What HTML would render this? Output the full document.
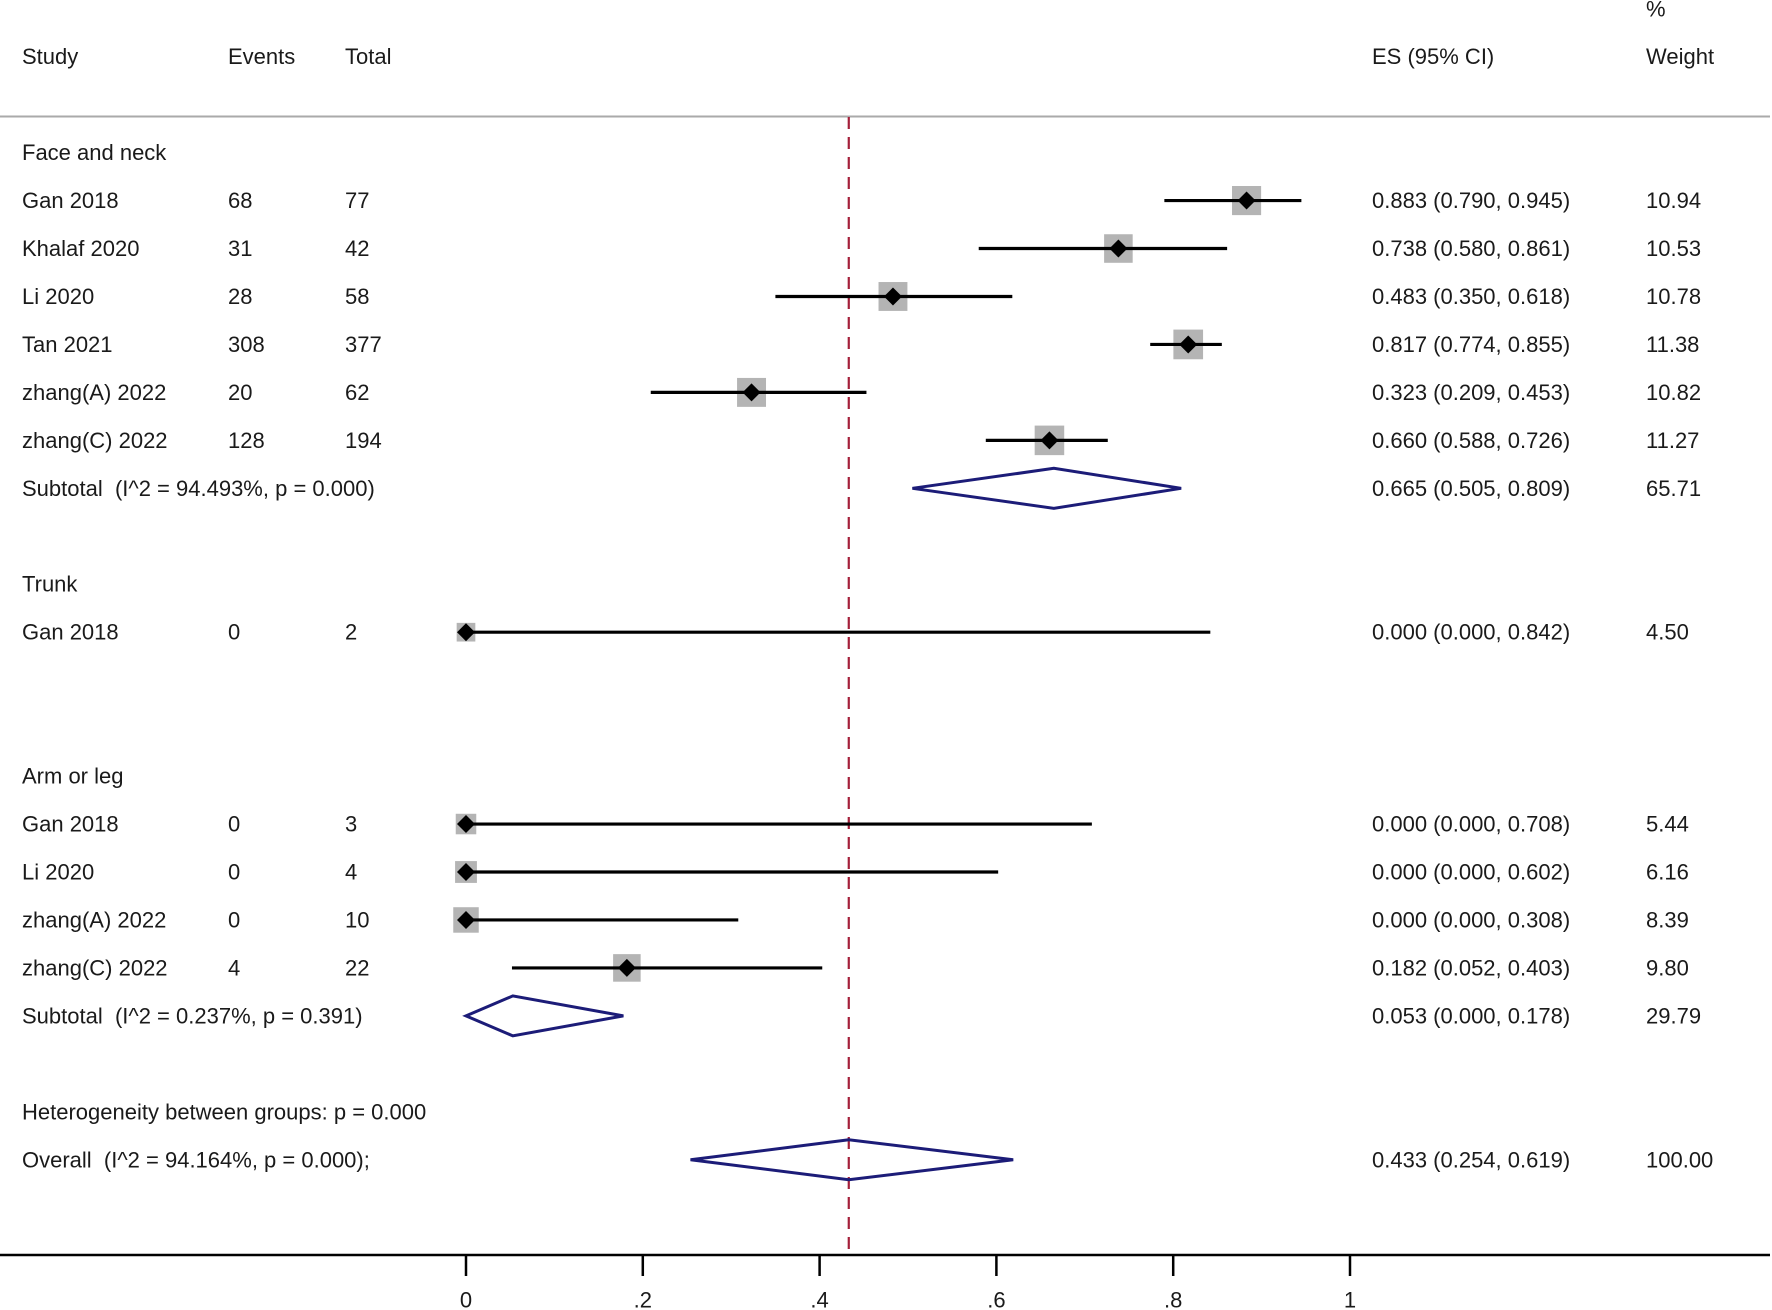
<!DOCTYPE html>
<html><head><meta charset="utf-8"><style>
html,body{margin:0;padding:0;background:#fff;}
svg{display:block;}
text{font-family:"Liberation Sans",Arial,sans-serif;font-size:22px;fill:#1a1a1a;white-space:pre;}
</style></head><body>
<svg id="plot" width="1772" height="1310" viewBox="0 0 1772 1310" xmlns="http://www.w3.org/2000/svg"></svg>
<script>
const studies = ["Gan 2018","Khalaf 2020","Li 2020","Tan 2021","zhang(A) 2022","zhang(C) 2022","Gan 2018","Gan 2018","Li 2020","zhang(A) 2022","zhang(C) 2022"];
const events = ["68","31","28","308","20","128","0","0","0","0","4"];
const totals = ["77","42","58","377","62","194","2","3","4","10","22"];
const es = [0.883,0.738,0.483,0.817,0.323,0.660,0.000,0.000,0.000,0.000,0.182];
const lo = [0.790,0.580,0.350,0.774,0.209,0.588,0.000,0.000,0.000,0.000,0.052];
const hi = [0.945,0.861,0.618,0.855,0.453,0.726,0.842,0.708,0.602,0.308,0.403];
const weights = [10.94,10.53,10.78,11.38,10.82,11.27,4.50,5.44,6.16,8.39,9.80];
const studyRows = [1,2,3,4,5,6,10,14,15,16,17];
const summaryLabels = ["Subtotal  (I^2 = 94.493%, p = 0.000)","Subtotal  (I^2 = 0.237%, p = 0.391)","Overall  (I^2 = 94.164%, p = 0.000);"];
const summaryES = [0.665,0.053,0.433];
const summaryLo = [0.505,0.000,0.254];
const summaryHi = [0.809,0.178,0.619];
const summaryW = ["65.71","29.79","100.00"];
const summaryRows = [7,18,21];
const groupLabels = ["Face and neck","Trunk","Arm or leg","Heterogeneity between groups: p = 0.000"];
const groupRows = [0,9,13,20];
const xTicks = [0,0.2,0.4,0.6,0.8,1];
const xTickLabels = ["0",".2",".4",".6",".8","1"];

const svg = document.getElementById('plot');
const NS = "http://www.w3.org/2000/svg";
const x = v => 466 + v*884;
const y = r => 152.6 + r*47.96;
function el(tag, attrs, parent){const e=document.createElementNS(NS,tag);for(const k in attrs)e.setAttribute(k,attrs[k]);(parent||svg).appendChild(e);return e;}
function txt(s,X,Y,name,anchor){const t=el('text',{x:X,y:Y,'dominant-baseline':'central'});if(anchor)t.setAttribute('text-anchor',anchor);t.textContent=s;


return t;}
const f3 = v => v.toFixed(3);

txt("%",1646,9,"weight-percent-header");
txt("Study",22,56.5,"study-header");
txt("Events",228,56.5,"events-header");
txt("Total",345,56.5,"total-header");
txt("ES (95% CI)",1372,56.5,"es-header");
txt("Weight",1646,56.5,"weight-header");
const hl = el('line',{x1:0,x2:1770,y1:116.5,y2:116.5,stroke:'#aaa','stroke-width':2});



const ref = el('line',{x1:x(summaryES[2]),x2:x(summaryES[2]),y1:117,y2:1255,stroke:'#a4203a','stroke-width':2.2,'stroke-dasharray':'12,8'});



groupLabels.forEach((g,i)=>txt(g,22,y(groupRows[i]),'group-label'));

studies.forEach((s,i)=>{
  const r=y(studyRows[i]);
  txt(s,22,r,'study-label');
  txt(events[i],228,r,'events-value');
  txt(totals[i],345,r,'total-value');
  txt(f3(es[i])+" ("+f3(lo[i])+", "+f3(hi[i])+")",1372,r,'es-ci-value');
  txt(weights[i].toFixed(2),1646,r,'weight-value');
  const side = 8.8*Math.sqrt(weights[i]);
  const b = el('rect',{x:x(es[i])-side/2,y:r-side/2,width:side,height:side,fill:'#b4b4b4'});
  
  
  const ci = el('line',{x1:x(lo[i]),x2:x(hi[i]),y1:r,y2:r,stroke:'#000','stroke-width':3.2});
  
  
  const cx=x(es[i]);
  const d = el('polygon',{points:`${cx-9},${r} ${cx},${r-9} ${cx+9},${r} ${cx},${r+9}`,fill:'#000'});
  
  
});

summaryLabels.forEach((s,i)=>{
  const r=y(summaryRows[i]);
  txt(s,22,r,'summary-label');
  txt(f3(summaryES[i])+" ("+f3(summaryLo[i])+", "+f3(summaryHi[i])+")",1372,r,'summary-es-ci');
  txt(summaryW[i],1646,r,'summary-weight');
  const p = el('polygon',{points:`${x(summaryLo[i])},${r} ${x(summaryES[i])},${r-20} ${x(summaryHi[i])},${r} ${x(summaryES[i])},${r+20}`,fill:'none',stroke:'#1c1c78','stroke-width':3});
  
  
});

const ax = el('line',{x1:0,x2:1770,y1:1255,y2:1255,stroke:'#000','stroke-width':2.5});


xTicks.forEach((t,i)=>{
  const tk = el('line',{x1:x(t),x2:x(t),y1:1255,y2:1276,stroke:'#000','stroke-width':2.5});
  
  
  txt(xTickLabels[i],x(t),1300,'x-tick-label','middle');
});
</script>
</body></html>
